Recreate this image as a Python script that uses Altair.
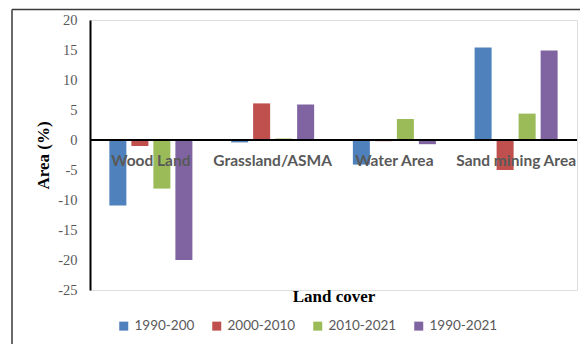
import altair as alt
import pandas as pd

# Land cover change (%) per period
categories = ["Wood Land", "Grassland/ASMA", "Water Area", "Sand mining Area"]
periods = ["1990-200", "2000-2010", "2010-2021", "1990-2021"]
change_1990_2000 = [-10.9, -0.4, -4.1, 15.4]
change_2000_2010 = [-1.0, 6.1, -0.2, -5.0]
change_2010_2021 = [-8.1, 0.25, 3.5, 4.4]
change_1990_2021 = [-20.0, 5.9, -0.7, 14.9]
y_ticks = [-25, -20, -15, -10, -5, 0, 5, 10, 15, 20]
colors = ["#4F81BD", "#C0504D", "#9BBB59", "#8064A2"]

rows = []
for period, vals in zip(periods, [change_1990_2000, change_2000_2010,
                                  change_2010_2021, change_1990_2021]):
    for cat, v in zip(categories, vals):
        rows.append({"cover": cat, "period": period, "area": v})
df = pd.DataFrame(rows)
labels_df = pd.DataFrame({"cover": categories})
frame_df = pd.DataFrame({"zero": [0]})

W, H = 487, 270

x_scale = alt.Scale(domain=categories, paddingInner=0.318, paddingOuter=0.159)
y_scale = alt.Scale(domain=[-25, 20], nice=False)
y_axis = alt.Axis(values=y_ticks, ticks=False, grid=False,
                  labelOverlap=False, labelExpr="'' + datum.value",
                  domainColor="#000000", domainWidth=2,
                  labelFont="Liberation Serif", labelFontSize=14.5,
                  labelColor="#595959", labelPadding=13,
                  title="Area (%)", titleFont="Liberation Serif",
                  titleFontSize=17, titleFontWeight="bold",
                  titleColor="#000000", titleAngle=-90,
                  titleX=-47, titleY=135, titleBaseline="middle",
                  titleAlign="center")

bars = alt.Chart(df).mark_bar().encode(
    x=alt.X("cover:N", scale=x_scale, sort=categories,
            axis=alt.Axis(labels=False, ticks=False, domain=False,
                          title="Land cover", titleFont="Liberation Serif",
                          titleFontSize=17, titleFontWeight="bold",
                          titleColor="#000000", titleBaseline="alphabetic",
                          titleY=11)),
    xOffset=alt.XOffset("period:N", sort=periods,
                        scale=alt.Scale(domain=periods, paddingInner=0.227,
                                        paddingOuter=0)),
    y=alt.Y("area:Q", scale=y_scale, axis=y_axis),
    color=alt.Color("period:N", sort=periods,
                    scale=alt.Scale(domain=periods, range=colors),
                    legend=alt.Legend(title=None, orient="none",
                                      direction="horizontal",
                                      legendX=27, legendY=299,
                                      symbolType="square", symbolSize=81,
                                      symbolStrokeWidth=0,
                                      labelFont="Lato", labelFontSize=13.5,
                                      labelColor="#595959", labelOffset=4,
                                      columnPadding=15, padding=0)),
)

# horizontal baseline at zero spanning the plot width
zero_line = alt.Chart(frame_df).mark_rule(color="#000000", strokeWidth=2).encode(
    y=alt.Y("zero:Q", scale=y_scale, axis=y_axis, title="Area (%)"),
    x=alt.value(0), x2=alt.value(W)
)

cat_labels = alt.Chart(labels_df).mark_text(
    font="Lato", fontSize=15.5, fontWeight="bold", color="#595959",
    baseline="alphabetic", align="center"
).encode(x=alt.X("cover:N", scale=x_scale, sort=categories),
         y=alt.value(146), text="cover:N")

# outer frame lines (top and left)
frame_top = alt.Chart(frame_df).mark_rule(color="#3a3a3a", strokeWidth=1.5).encode(
    x=alt.value(-78), x2=alt.value(W + 3), y=alt.value(-10.5)
)
frame_left = alt.Chart(frame_df).mark_rule(color="#3a3a3a", strokeWidth=1.5).encode(
    x=alt.value(-78), y=alt.value(-10.5), y2=alt.value(H + 54)
)

chart = alt.layer(bars, zero_line, cat_labels, frame_top, frame_left).properties(
    width=W, height=H,
    autosize=alt.AutoSizeParams(type="none"),
    padding={"left": 90, "top": 20, "right": 3, "bottom": 54},
).configure_view(stroke=None).configure_axis(labelOverlap=False).configure(
    background="#ffffff")

chart.save("out.html", embed_options={"renderer": "svg", "actions": False})
